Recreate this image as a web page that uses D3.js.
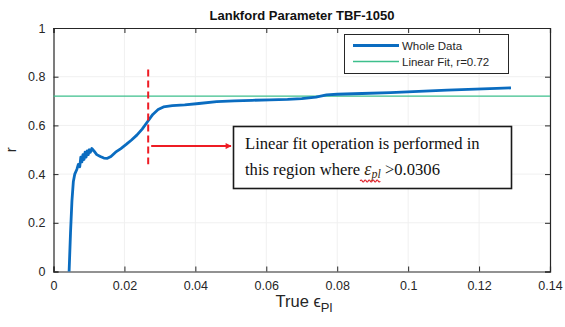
<!DOCTYPE html>
<html>
<head>
<meta charset="utf-8">
<script src="https://cdn.jsdelivr.net/npm/d3@7"></script>
<style>
  body { margin: 0; background: #fff; }
  svg { display: block; }
</style>
</head>
<body>
<svg id="chart" width="565" height="327"></svg>
<script>
// true plastic strain vs lankford r
const strain = [0.0044, 0.0048, 0.0052, 0.0056, 0.0060, 0.0066, 0.0070, 0.0074, 0.0077,
  0.0080, 0.0083, 0.0086, 0.0089, 0.0092, 0.0095, 0.0098, 0.0101, 0.0104, 0.0108,
  0.0114, 0.0122, 0.0132, 0.0142, 0.0152, 0.0162, 0.0175, 0.0190, 0.0205, 0.0220,
  0.0235, 0.0250, 0.0265, 0.0280, 0.0295, 0.0310, 0.0335, 0.0370, 0.0410, 0.0460,
  0.0510, 0.0560, 0.0610, 0.0660, 0.0700, 0.0740, 0.0770, 0.0800, 0.0870, 0.0950,
  0.1030, 0.1110, 0.1190, 0.1250, 0.1290];
const rValue = [0.00, 0.16, 0.29, 0.37, 0.40, 0.42, 0.44, 0.43, 0.47,
  0.45, 0.48, 0.46, 0.49, 0.47, 0.495, 0.48, 0.50, 0.49, 0.505,
  0.495, 0.48, 0.472, 0.466, 0.465, 0.472, 0.49, 0.505, 0.522, 0.54,
  0.56, 0.585, 0.615, 0.645, 0.665, 0.676, 0.681, 0.684, 0.690, 0.698,
  0.701, 0.703, 0.705, 0.707, 0.710, 0.716, 0.725, 0.728, 0.731, 0.735,
  0.740, 0.745, 0.749, 0.752, 0.754];

const fitR = 0.72;
const fitStart = 0.0267; // dashed marker
const xTicks = [0, 0.02, 0.04, 0.06, 0.08, 0.1, 0.12, 0.14];
const yTicks = [0, 0.2, 0.4, 0.6, 0.8, 1];
const legendLabels = ["Whole Data", "Linear Fit, r=0.72"];

const svg = d3.select("#chart");
const margin = { top: 28, right: 15, bottom: 55.5, left: 53.5 };
const W = 565, H = 327;
const innerW = W - margin.left - margin.right;
const innerH = H - margin.top - margin.bottom;

const x = d3.scaleLinear().domain([0, 0.14]).range([margin.left, margin.left + innerW]);
const y = d3.scaleLinear().domain([0, 1]).range([margin.top + innerH, margin.top]);

const axisColor = "#262626";
const fmt = d => d === 0 ? "0" : d3.format("")(+d.toFixed(2));

// grid
const grid = svg.append("g").attr("stroke", "#f0f0f0").attr("stroke-width", 1);
grid.selectAll(".gx").data(xTicks.slice(1, -1)).enter().append("line")
  .attr("x1", d => x(d)).attr("x2", d => x(d))
  .attr("y1", y(0)).attr("y2", y(1));
grid.selectAll(".gy").data(yTicks.slice(1, -1)).enter().append("line")
  .attr("x1", x(0)).attr("x2", x(0.14))
  .attr("y1", d => y(d)).attr("y2", d => y(d));

// axes (inner ticks on all sides like matlab)
const tickLen = 5;
svg.append("g").attr("transform", `translate(0,${y(0)})`)
  .call(d3.axisBottom(x).tickValues(xTicks).tickSize(-tickLen).tickPadding(10).tickFormat(fmt));
svg.append("g").attr("transform", `translate(0,${y(1)})`)
  .call(d3.axisTop(x).tickValues(xTicks).tickSize(-tickLen).tickFormat(""));
svg.append("g").attr("transform", `translate(${x(0)},0)`)
  .call(d3.axisLeft(y).tickValues(yTicks).tickSize(-tickLen).tickPadding(8).tickFormat(fmt));
svg.append("g").attr("transform", `translate(${x(0.14)},0)`)
  .call(d3.axisRight(y).tickValues(yTicks).tickSize(-tickLen).tickFormat(""));

svg.selectAll(".domain").attr("stroke", axisColor).attr("stroke-width", 1.2);
svg.selectAll(".tick line").attr("stroke", axisColor);
svg.selectAll(".tick text")
  .attr("fill", axisColor)
  .style("font-family", "Liberation Sans, Arial, sans-serif")
  .style("font-size", "12.5px");

// linear fit line
svg.append("line")
  .attr("x1", x(0)).attr("x2", x(0.14))
  .attr("y1", y(fitR)).attr("y2", y(fitR))
  .attr("stroke", "#3dbf8c").attr("stroke-width", 1.3);

// data line
const line = d3.line().x(d => x(d[0])).y(d => y(d[1]));
svg.append("path")
  .datum(d3.zip(strain, rValue))
  .attr("d", line)
  .attr("fill", "none")
  .attr("stroke", "#0a6cc0")
  .attr("stroke-width", 2.8)
  .attr("stroke-linejoin", "round");

// red dashed marker + arrow
svg.append("defs").append("marker")
  .attr("id", "arr").attr("viewBox", "0 0 10 10")
  .attr("refX", 9).attr("refY", 5)
  .attr("markerWidth", 7).attr("markerHeight", 6)
  .attr("markerUnits", "userSpaceOnUse")
  .attr("orient", "auto")
  .append("path").attr("d", "M0,0 L10,5 L0,10 z").attr("fill", "#ee1c24");

svg.append("line")
  .attr("x1", x(fitStart)).attr("x2", x(fitStart))
  .attr("y1", y(0.83)).attr("y2", y(0.44))
  .attr("stroke", "#ee1c24").attr("stroke-width", 2)
  .attr("stroke-dasharray", "7,4");
svg.append("line")
  .attr("x1", x(fitStart) + 3).attr("x2", 231)
  .attr("y1", y(0.515)).attr("y2", y(0.515))
  .attr("stroke", "#ee1c24").attr("stroke-width", 2)
  .attr("marker-end", "url(#arr)");

// annotation box
const box = svg.append("g");
box.append("rect")
  .attr("x", 233.5).attr("y", 126.5).attr("width", 278).attr("height", 62)
  .attr("fill", "#fff").attr("stroke", "#1a1a1a").attr("stroke-width", 1.6);
const serif = "Liberation Serif, Times New Roman, serif";
box.append("text").attr("x", 245).attr("y", 149)
  .style("font-family", serif).style("font-size", "16.6px").attr("fill", "#111")
  .text("Linear fit operation is performed in");
const t2 = box.append("text").attr("x", 245).attr("y", 175)
  .style("font-family", serif).style("font-size", "16.6px").attr("fill", "#111");
t2.append("tspan").text("this region where ");
const eps = t2.append("tspan").attr("font-style", "italic").attr("fill", "#3a2a10")
  .attr("font-size", "18px").text("ε");
const sub = t2.append("tspan").attr("font-style", "italic").attr("fill", "#3a2a10")
  .attr("font-size", "12px").attr("dy", 3).text("pl");
t2.append("tspan").attr("dy", -3).text(" >0.0306");

// spell-check squiggle under epsilon
const n = t2.node();
const s0 = n.getStartPositionOfChar(17).x;
const s1 = n.getEndPositionOfChar(19).x;
let sq = `M${s0},181`;
for (let px = s0; px < s1 - 1; px += 4) sq += ` q1,-2 2,0 t2,0`;
box.append("path")
  .attr("d", sq)
  .attr("fill", "none").attr("stroke", "#e0202a").attr("stroke-width", 1.2);

// legend
const lg = svg.append("g");
lg.append("rect")
  .attr("x", 344.5).attr("y", 34.5).attr("width", 164).attr("height", 39)
  .attr("fill", "#fff").attr("stroke", "#262626").attr("stroke-width", 1);
const legColors = ["#0a6cc0", "#3dbf8c"];
const legWidths = [2.8, 1.3];
legendLabels.forEach((lab, i) => {
  const ly = 45.5 + i * 16;
  lg.append("line").attr("x1", 353).attr("x2", 399).attr("y1", ly).attr("y2", ly)
    .attr("stroke", legColors[i]).attr("stroke-width", legWidths[i]);
  lg.append("text").attr("x", 402).attr("y", ly + 4)
    .style("font-family", "Liberation Sans, Arial, sans-serif").style("font-size", "11.5px")
    .attr("fill", axisColor).text(lab);
});

// title and labels
svg.append("text").attr("x", 302).attr("y", 20).attr("text-anchor", "middle")
  .style("font-family", "Liberation Sans, Arial, sans-serif").style("font-size", "13px")
  .style("font-weight", "bold").attr("fill", "#111")
  .text("Lankford Parameter TBF-1050");

const xl = svg.append("text").attr("x", 304).attr("y", 307).attr("text-anchor", "middle")
  .style("font-family", "Liberation Sans, Arial, sans-serif").style("font-size", "16.5px")
  .attr("fill", axisColor);
xl.append("tspan").text("True ");
xl.append("tspan").text("ϵ");
xl.append("tspan").attr("font-size", "13px").attr("dy", 5).text("Pl");

svg.append("text")
  .attr("transform", `translate(16,${y(0.5)}) rotate(-90)`)
  .attr("text-anchor", "middle")
  .style("font-family", "Liberation Sans, Arial, sans-serif").style("font-size", "15px")
  .attr("fill", axisColor).text("r");
</script>
</body>
</html>
